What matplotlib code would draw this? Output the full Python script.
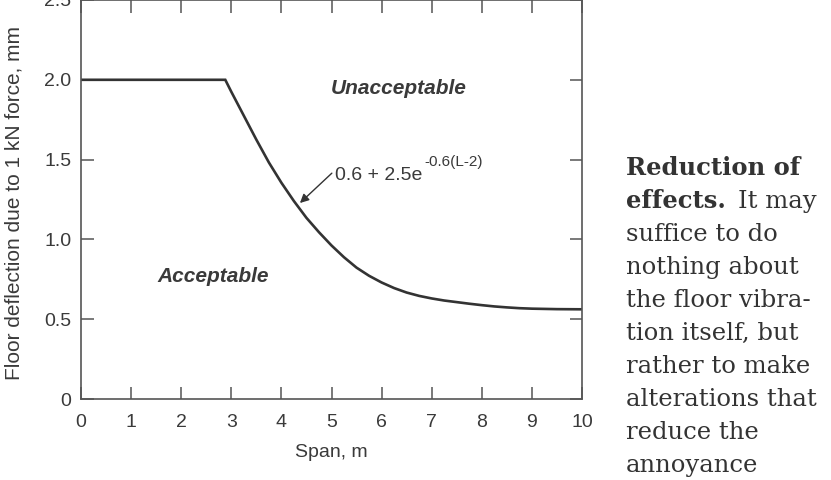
import matplotlib
matplotlib.use("Agg")
import matplotlib.pyplot as plt

# ---- data ----
span = [0, 2.88, 3.0, 3.25, 3.5, 3.75, 4.0, 4.25, 4.5, 4.75, 5.0, 5.25, 5.5,
        5.75, 6.0, 6.25, 6.5, 6.75, 7.0, 7.25, 7.5, 7.75, 8.0, 8.25, 8.5,
        8.75, 9.0, 9.5, 10.0]
deflection = [2.0, 2.0, 1.925, 1.775, 1.625, 1.482, 1.355, 1.240, 1.135,
              1.045, 0.962, 0.888, 0.823, 0.772, 0.730, 0.695, 0.667, 0.646,
              0.630, 0.617, 0.607, 0.597, 0.588, 0.580, 0.574, 0.569, 0.566,
              0.563, 0.562]
x_ticks = [0, 1, 2, 3, 4, 5, 6, 7, 8, 9, 10]
y_ticks = [0, 0.5, 1.0, 1.5, 2.0, 2.5]
y_tick_labels = ["0", "0.5", "1.0", "1.5", "2.0", "2.5"]

side_lines = ["nothing about", "the floor vibra-", "tion itself, but",
              "rather to make", "alterations that", "reduce the", "annoyance"]

plt.rcParams['font.family'] = ['Liberation Sans', 'DejaVu Sans']

W, H = 831, 480
fig = plt.figure(figsize=(W / 100, H / 100), dpi=100)
ax = fig.add_axes([81 / W, 1 - 399 / H, (582 - 81) / W, 399 / H])

txt_col = '#3a3a3a'
ax.plot(span, deflection, color='#333333', lw=1.9, solid_joinstyle='miter')

ax.set_xlim(0, 10)
ax.set_ylim(0, 2.5)
ax.set_xticks(x_ticks)
ax.set_xticklabels([str(t) for t in x_ticks])
ax.set_yticks(y_ticks)
ax.set_yticklabels(y_tick_labels)
ax.tick_params(direction='in', length=9, width=1.1, color='#555555',
               labelsize=14, labelcolor=txt_col, top=True, right=True)
ax.tick_params(axis='x', pad=11)
ax.tick_params(axis='y', pad=7)
for s in ax.spines.values():
    s.set_color('#555555')
    s.set_linewidth(1.2)

ax.set_xlabel("Span, m", fontsize=14, color=txt_col, labelpad=9)
ax.set_ylabel("Floor deflection due to 1 kN force, mm", fontsize=15,
              color=txt_col)
ax.yaxis.set_label_coords(-0.114, 0.49)

ax.text(6.34, 1.948, "Unacceptable", fontsize=15, fontweight='bold',
        fontstyle='italic', color=txt_col, ha='center', va='center')
ax.text(2.64, 0.767, "Acceptable", fontsize=15, fontweight='bold',
        fontstyle='italic', color=txt_col, ha='center', va='center')

# formula with superscript
t_base = ax.text(5.073, 1.373, "0.6 + 2.5e", fontsize=14, color=txt_col,
                 ha='left', va='baseline')
ax.annotate("-0.6(L-2)", xy=(1, 1.46), xycoords=(t_base, 'data'),
            xytext=(1.5, 0), textcoords='offset points', fontsize=11,
            color=txt_col, ha='left', va='baseline')
ax.annotate("", xy=(4.37, 1.228), xytext=(5.007, 1.415),
            arrowprops=dict(arrowstyle='-|>', color='#333333', lw=1.0,
                            mutation_scale=13, shrinkA=0, shrinkB=0))

# ---- side text ----
serif = ['DejaVu Serif']
x0 = 626 / W
base0 = 175
step = 33
side_col = '#333333'
fs = 17.5
fig.text(x0, 1 - base0 / H, "Reduction of", fontsize=fs, fontweight='bold',
         family=serif, color=side_col, va='baseline')
t_eff = fig.text(x0, 1 - (base0 + step) / H, "effects.", fontsize=fs,
                 fontweight='bold', family=serif, color=side_col, va='baseline')
ax.annotate("It may", xy=(1, 1 - (base0 + step) / H),
            xycoords=(t_eff, 'figure fraction'), xytext=(9, 0),
            textcoords='offset points', fontsize=fs, family=serif,
            color=side_col, va='baseline', ha='left', annotation_clip=False)
fig.text(x0, 1 - (base0 + 2 * step) / H, "suffice to do", fontsize=fs,
         family=serif, color=side_col, va='baseline')
for i, line in enumerate(side_lines):
    fig.text(x0, 1 - (base0 + (i + 3) * step) / H, line, fontsize=fs,
             family=serif, color=side_col, va='baseline')

fig.savefig("out.png", dpi=100)
